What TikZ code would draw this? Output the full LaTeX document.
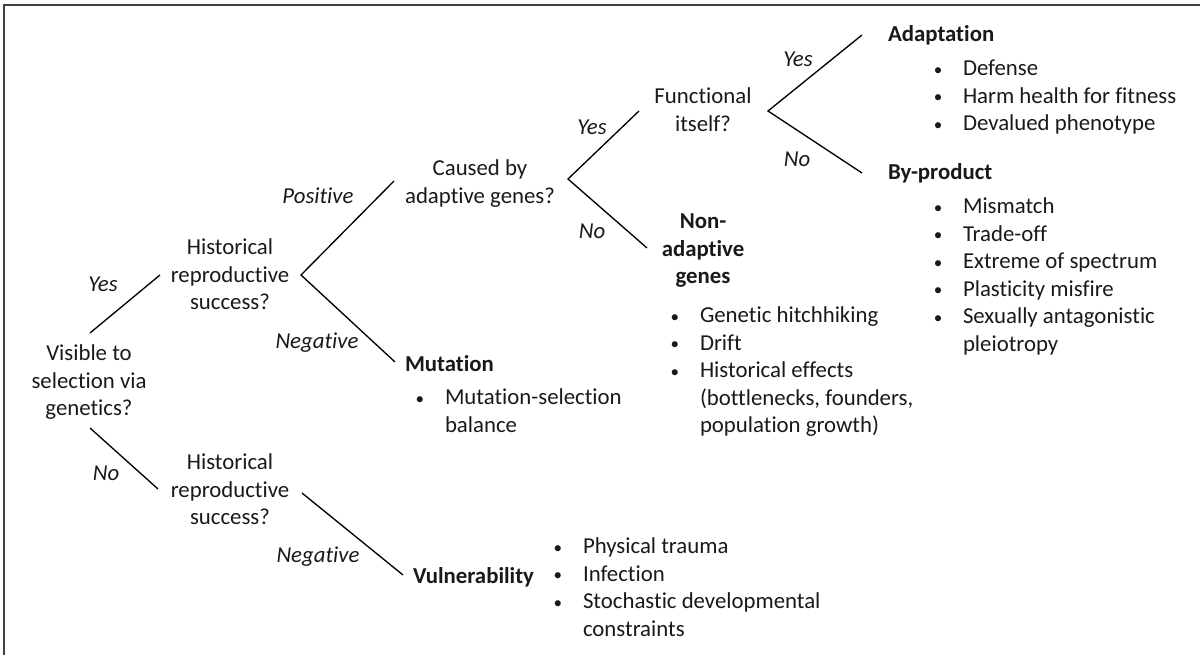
\documentclass[tikz,border=0pt]{standalone}
\usepackage{fontspec}
\setmainfont{Carlito}[Ligatures=NoCommon]
\begin{document}
% one unit = one pixel of a 1200 x 655 canvas, y grows downwards
\newcommand{\bul}{\llap{\makebox[0pt]{\raisebox{0.6pt}{\scalebox{0.75}{\textbullet}}}\hspace{18.75pt}}}
\begin{tikzpicture}[x=0.75pt,y=-0.75pt,
  every node/.style={inner sep=0pt, outer sep=0pt, text=black!90,
    font=\fontsize{17.1}{20.6}\selectfont},
  question/.style={anchor=base},
  outcome/.style={anchor=base west, font=\fontsize{17.1}{20.6}\selectfont\bfseries},
  itemlist/.style={anchor=base west},
  branch/.style={anchor=base, font=\fontsize{17.1}{20.6}\selectfont\itshape},
  link/.style={draw=black, line width=1pt}
]
\useasboundingbox (0,0) rectangle (1200,655);

% frame
\draw[line width=1pt, black!75] (4,655) -- (4,5) -- (1200,5);

% questions
\node[question] (vis)   at (89,361)  {\begin{tabular}[t]{@{}c@{}}Visible to\\selection via\\genetics?\end{tabular}};
\node[question] (hup)   at (230,255) {\begin{tabular}[t]{@{}c@{}}Historical\\reproductive\\success?\end{tabular}};
\node[question] (hlow)  at (230,470) {\begin{tabular}[t]{@{}c@{}}Historical\\reproductive\\success?\end{tabular}};
\node[question] (cause) at (480,176) {\begin{tabular}[t]{@{}c@{}}Caused by\\adaptive genes?\end{tabular}};
\node[question] (func)  at (703,104) {\begin{tabular}[t]{@{}c@{}}Functional\\itself?\end{tabular}};

% outcomes
\node[question, font=\fontsize{17.1}{20.6}\selectfont\bfseries] (nonad) at (703,229)
  {\begin{tabular}[t]{@{}c@{}}Non-\\adaptive\\genes\end{tabular}};
\node[outcome] (adapt)  at (888,42)  {Adaptation};
\node[outcome] (byprod) at (888,180) {By-product};
\node[outcome] (mut)    at (405,372) {Mutation};
\node[outcome] (vuln)   at (413,584) {Vulnerability};

% item lists
\node[itemlist] (adaptlist) at (963,76) {\begin{tabular}[t]{@{}l@{}}
  \bul Defense\\ \bul Harm health for fitness\\ \bul Devalued phenotype\end{tabular}};
\node[itemlist] (bylist) at (963,214) {\begin{tabular}[t]{@{}l@{}}
  \bul Mismatch\\ \bul Trade-off\\ \bul Extreme of spectrum\\ \bul Plasticity misfire\\
  \bul Sexually antagonistic\\ pleiotropy\end{tabular}};
\node[itemlist] (nonlist) at (700,323) {\begin{tabular}[t]{@{}l@{}}
  \bul Genetic hitchhiking\\ \bul Drift\\ \bul Historical effects\\
  (bottlenecks, founders,\\ population growth)\end{tabular}};
\node[itemlist] (mutlist) at (445,405) {\begin{tabular}[t]{@{}l@{}}
  \bul Mutation-selection\\ balance\end{tabular}};
\node[itemlist] (vullist) at (583,554) {\begin{tabular}[t]{@{}l@{}}
  \bul Physical trauma\\ \bul Infection\\ \bul Stochastic developmental\\ constraints\end{tabular}};

% connector ends
\coordinate (vis-up)    at (90,333);
\coordinate (vis-down)  at (90,428);
\coordinate (hup-in)    at (160,275);
\coordinate (hlow-in)   at (158,489);
\coordinate (hup-out)   at (301,275);
\coordinate (hlow-out)  at (302,493);
\coordinate (cause-in)  at (394,181);
\coordinate (mut-in)    at (395,362);
\coordinate (vuln-in)   at (403,575);
\coordinate (cause-out) at (568,179);
\coordinate (func-in)   at (639,111);
\coordinate (nonad-in)  at (647,248);
\coordinate (func-out)  at (768,111);
\coordinate (adapt-in)  at (862,35);
\coordinate (byprod-in) at (862,173);

% connectors
\draw[link] (vis-up) -- (hup-in);
\draw[link] (vis-down) -- (hlow-in);
\draw[link] (cause-in) -- (hup-out) -- (mut-in);
\draw[link] (hlow-out) -- (vuln-in);
\draw[link] (func-in) -- (cause-out) -- (nonad-in);
\draw[link] (adapt-in) -- (func-out) -- (byprod-in);

% branch labels
\node[branch] (l1) at (103,292) {Yes};
\node[branch] (l2) at (106,481) {No};
\node[branch] (l3) at (318,204) {Positive};
\node[branch] (l4) at (317,349) {Negative};
\node[branch] (l5) at (318,563) {Negative};
\node[branch] (l6) at (592,135) {Yes};
\node[branch] (l7) at (592,239) {No};
\node[branch] (l8) at (798,67)  {Yes};
\node[branch] (l9) at (797,167) {No};
\end{tikzpicture}
\end{document}
